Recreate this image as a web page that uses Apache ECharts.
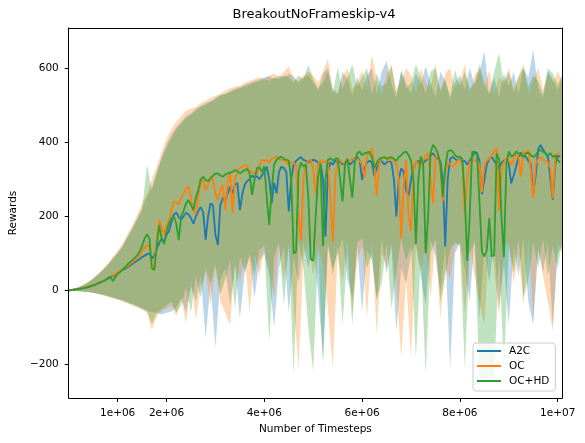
<!DOCTYPE html>
<html><head><meta charset="utf-8">
<script src="https://cdn.jsdelivr.net/npm/echarts@6/dist/echarts.min.js"></script>
<style>html,body{margin:0;padding:0;background:#fff}#c{width:585px;height:443px}</style>
</head><body><div id="c"></div>
<script>
// ---------- data ----------
const seriesNames = ['A2C', 'OC', 'OC+HD'];
const MEAN_STEP = 50000;   // timesteps between mean samples (0 .. 10.05e6)
const BAND_STEP = 100000;  // timesteps between band samples (0 .. 10.1e6)

const a2cMean = [
0,1,2,3,4,5,7,8,10,12,14,16,19,22,25,28,32,35,39,43,
47,51,55,59,63,67,72,76,80,85,90,94,98,100,85,95,112,128,140,130,
150,160,185,205,210,198,192,200,210,205,195,180,200,215,225,210,137,200,235,230,
150,123,230,250,240,262,280,262,285,290,217,260,285,295,300,310,305,308,300,310,
320,334,300,235,290,262,320,334,330,320,213,300,340,350,355,360,352,350,345,350,
352,350,345,340,300,145,320,345,340,350,345,348,340,345,350,340,345,355,360,350,
298,330,345,350,345,310,330,345,350,340,345,350,345,300,200,300,330,320,270,255,
300,330,345,350,340,345,350,355,365,370,360,355,350,300,119,300,355,360,355,350,
355,345,350,340,350,360,375,370,350,260,300,340,355,360,350,340,330,345,350,355,
340,289,310,335,360,372,365,360,350,340,262,310,380,393,380,370,360,300,245,340,365,360];

const ocMean = [
0,1,2,3,4,5,7,9,11,13,15,17,20,23,26,29,33,37,41,45,
49,53,57,61,66,71,76,82,88,95,105,115,123,118,75,55,140,190,172,150,
175,190,215,240,238,232,249,262,275,280,250,215,208,253,290,298,271,285,307,300,
260,244,270,285,217,290,320,208,300,325,330,334,339,335,325,316,318,316,335,352,
350,352,345,355,358,361,355,352,352,345,340,345,343,340,200,135,300,340,350,352,
330,260,340,350,345,350,345,250,130,300,357,350,345,343,345,350,355,352,355,350,
340,303,365,370,384,340,255,340,357,360,355,350,358,350,340,300,140,280,352,200,
160,330,350,340,334,350,365,370,300,235,360,370,330,240,320,345,340,334,340,350,
352,340,205,300,345,350,352,350,340,265,340,350,355,365,375,385,215,320,345,360,
350,339,355,370,360,307,375,370,379,320,249,340,355,360,352,350,345,330,248,360,370,365];

const ochdMean = [
0,1,2,3,4,5,6,8,10,12,14,16,19,22,25,28,33,38,25,35,
45,50,56,62,70,76,82,88,95,105,120,140,152,140,60,55,120,177,140,125,
160,181,195,199,180,136,200,215,235,244,230,217,250,271,300,307,298,295,302,310,
315,316,310,307,312,316,318,320,325,322,316,320,325,328,315,258,300,330,332,320,
335,250,177,271,340,352,358,361,355,352,350,300,100,105,320,345,334,340,250,85,
80,200,307,339,120,300,352,357,350,355,357,300,240,340,355,300,250,345,370,375,
365,370,372,374,360,330,345,355,357,360,355,358,360,355,350,360,365,372,375,365,
350,300,125,300,362,340,100,200,370,393,384,370,340,253,330,375,379,375,365,360,
361,355,250,80,200,375,370,368,240,105,92,110,195,92,95,370,355,200,90,340,
375,361,365,375,370,365,360,370,372,365,360,365,375,379,375,370,365,370,360,365,352,345];

const a2cUpper = [
0,4,9,15,22,32,44,56,70,86,
102,120,145,168,195,222,250,280,320,360,
395,420,440,455,470,478,490,498,505,510,
520,528,530,538,545,548,555,560,565,570,
575,578,570,580,575,585,578,560,575,580,
560,540,585,600,545,530,590,570,525,575,
540,580,600,530,590,620,555,520,595,560,
530,585,555,605,560,520,590,565,515,560,
580,540,600,555,590,645,530,575,520,585,
550,590,530,600,575,650,545,520,590,570,540,575];
const a2cLower = [
0,-1,-2,-3,-4,-6,-9,-12,-16,-20,
-24,-28,-33,-38,-44,-50,-55,-58,-60,-64,
-60,-57,-45,-20,-60,10,-30,40,-128,20,
-155,30,60,-40,70,-75,50,90,-20,80,
100,40,-100,60,120,-60,90,20,130,60,
130,-10,-182,120,60,100,140,30,-20,120,
-57,110,80,-30,140,45,120,-110,60,20,
100,130,40,-40,140,90,0,120,-210,100,
130,60,-30,140,-75,120,20,130,-50,70,
-93,120,40,140,-30,-93,110,50,130,-95,100,120];

const ocUpper = [
0,5,10,16,24,34,46,59,73,90,
108,126,152,175,205,235,262,300,335,375,
410,435,455,470,485,490,495,505,512,520,
525,530,540,545,550,552,560,565,570,575,
570,580,585,575,590,604,570,565,580,590,
580,560,590,625,540,530,575,600,545,560,
595,545,635,570,525,585,610,540,565,600,
580,530,600,560,545,610,535,585,600,545,
565,610,530,580,600,550,595,530,575,560,
600,545,580,610,530,565,600,540,585,560,590,570];
const ocLower = [
0,-1,-2,-3,-5,-7,-10,-13,-17,-21,
-25,-30,-35,-40,-46,-52,-60,-106,-70,-55,
-50,-40,-70,-20,-90,30,-80,10,50,-40,
60,-30,-60,-93,80,20,90,-60,100,40,
110,60,-20,120,30,130,-40,-210,90,130,
40,120,70,-50,-210,100,20,140,-60,80,
120,-75,140,-120,100,60,130,10,-182,30,
-182,120,50,130,-20,140,-75,60,30,120,
130,-66,110,40,-30,-93,140,60,-66,120,
130,20,100,-40,140,-75,120,40,-30,-110,130,100];

const ochdUpper = [
0,4,8,14,21,30,42,54,68,84,
100,118,142,165,190,218,339,270,315,355,
385,410,435,450,465,475,485,495,500,510,
515,525,530,535,540,545,550,555,560,565,
570,565,575,570,580,575,560,580,570,608,
570,545,560,590,530,600,545,575,610,550,
575,600,530,585,550,560,605,530,590,545,
560,610,575,530,590,600,540,570,525,595,
550,590,545,560,610,560,530,590,640,560,
590,535,575,600,550,580,565,530,600,585,555,580];
const ochdLower = [
0,-1,-2,-3,-4,-6,-8,-11,-14,-18,
-22,-26,-31,-36,-42,-48,-54,-90,-60,-50,
-40,-30,-60,-40,10,-60,40,-20,60,20,
70,-10,30,80,-50,90,50,100,40,110,
120,-137,90,130,-40,120,-227,130,60,-100,
-218,110,-200,130,40,120,-93,100,-93,130,
140,60,100,-20,20,130,-50,50,140,80,
120,-182,90,-227,100,140,-30,40,110,130,
120,-210,100,130,-237,-237,-237,-237,100,-210,
120,50,140,-20,30,130,60,140,40,120,60,130];

const xTickValues = [1e6, 2e6, 4e6, 6e6, 8e6, 1e7];
const xTickLabels = ['1e+06', '2e+06', '4e+06', '6e+06', '8e+06', '1e+07'];
const yTickValues = [-200, 0, 200, 400, 600];
const yTickLabels = ['\u2212200', '0', '200', '400', '600'];

// ---------- chart ----------
const X_MIN = 0, X_MAX = 10088000, Y_MIN = -290, Y_MAX = 708;
const colors = ['#1f77b4', '#ff7f0e', '#2ca02c'];
const FONT = 'DejaVu Sans';
const means = [a2cMean, ocMean, ochdMean];
const uppers = [a2cUpper, ocUpper, ochdUpper];
const lowers = [a2cLower, ocLower, ochdLower];

function bandSeries(idx) {
  const up = uppers[idx], lo = lowers[idx], color = colors[idx];
  return {
    type: 'custom', name: seriesNames[idx] + ' band', silent: true, clip: true, z: 1,
    data: [[0, 0]],
    renderItem: function (params, api) {
      const top = [], bot = [];
      for (let i = 0; i < up.length; i++) {
        const x = Math.min(i * BAND_STEP, X_MAX);
        top.push(api.coord([x, up[i]]));
        bot.push(api.coord([x, lo[i]]));
      }
      return { type: 'polygon', silent: true,
        shape: { points: top.concat(bot.reverse()) },
        style: { fill: color, opacity: 0.3 } };
    }
  };
}
function lineSeries(idx) {
  return {
    type: 'line', name: seriesNames[idx], z: 3,
    data: means[idx].map((v, i) => [i * MEAN_STEP, v]),
    showSymbol: false, symbol: 'none',
    lineStyle: { color: colors[idx], width: 1.8 },
    itemStyle: { color: colors[idx] }
  };
}
const txt = { fontFamily: FONT, fontSize: 10.5, color: '#000' };
const chart = echarts.init(document.getElementById('c'), null, { renderer: 'canvas' });
chart.setOption({
  animation: false,
  title: { text: 'BreakoutNoFrameskip-v4', left: 314, top: 8, padding: 0, textAlign: 'center',
    textStyle: { fontFamily: FONT, fontSize: 13, fontWeight: 'normal', color: '#000' } },
  grid: { left: 67, right: 23, top: 28, bottom: 45, containLabel: false },
  legend: {
    data: seriesNames, orient: 'vertical', left: 473, top: 343,
    icon: 'rect', itemWidth: 24, itemHeight: 2, itemGap: 3,
    textStyle: Object.assign({}, txt, { lineHeight: 12, padding: [0, 0, 0, 3] }),
    backgroundColor: 'rgba(255,255,255,0.8)', borderColor: '#cccccc', borderWidth: 1, borderRadius: 3,
    padding: [2, 6, 4, 4]
  },
  xAxis: [{
    type: 'value', min: X_MIN, max: X_MAX, position: 'bottom', z: 10,
    axisLine: { onZero: false, lineStyle: { color: '#000', width: 1 } },
    axisTick: { show: true, customValues: xTickValues, length: 4, lineStyle: { color: '#000' } },
    axisLabel: Object.assign({ customValues: xTickValues, margin: 10,
      formatter: v => xTickLabels[xTickValues.indexOf(v)] }, txt),
    splitLine: { show: false },
    name: 'Number of Timesteps', nameLocation: 'middle', nameGap: 26, nameTextStyle: txt
  }, {
    type: 'value', min: X_MIN, max: X_MAX, position: 'top', z: 10,
    axisLine: { onZero: false, lineStyle: { color: '#000', width: 1 } },
    axisTick: { show: false }, axisLabel: { show: false }, splitLine: { show: false }
  }],
  yAxis: [{
    type: 'value', min: Y_MIN, max: Y_MAX, position: 'left', z: 10,
    axisLine: { onZero: false, lineStyle: { color: '#000', width: 1 } },
    axisTick: { show: true, customValues: yTickValues, length: 4, lineStyle: { color: '#000' } },
    axisLabel: Object.assign({ customValues: yTickValues, margin: 10,
      formatter: v => yTickLabels[yTickValues.indexOf(v)] }, txt),
    splitLine: { show: false },
    name: 'Rewards', nameLocation: 'middle', nameGap: 44, nameTextStyle: txt
  }, {
    type: 'value', min: Y_MIN, max: Y_MAX, position: 'right', z: 10,
    axisLine: { onZero: false, lineStyle: { color: '#000', width: 1 } },
    axisTick: { show: false }, axisLabel: { show: false }, splitLine: { show: false }
  }],
  series: [bandSeries(0), bandSeries(1), bandSeries(2), lineSeries(0), lineSeries(1), lineSeries(2)]
});
</script>
</body></html>
